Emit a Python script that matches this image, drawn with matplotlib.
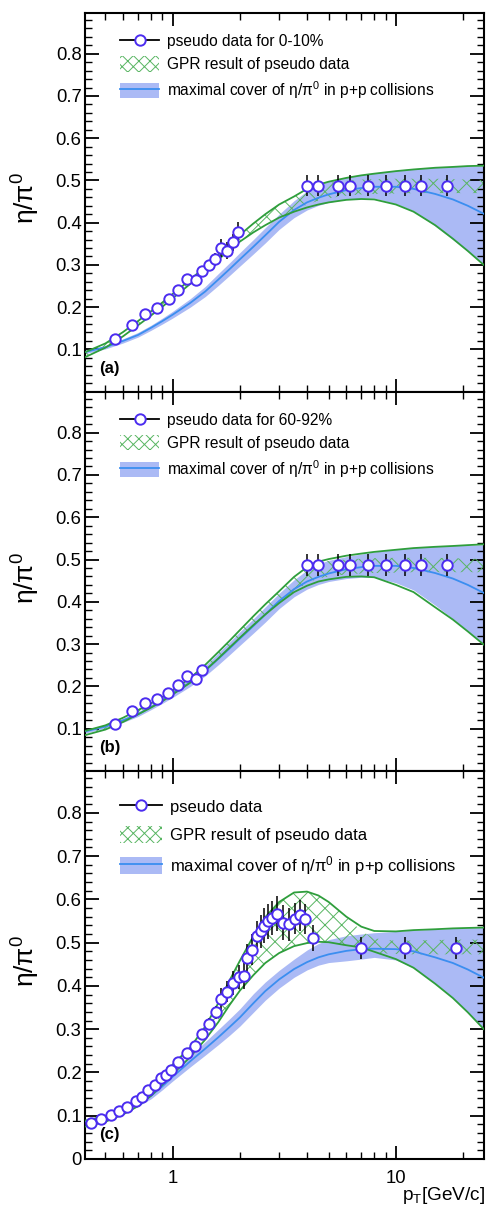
import matplotlib
matplotlib.use("Agg")
import matplotlib.pyplot as plt
from matplotlib.lines import Line2D
from matplotlib.patches import Patch
from matplotlib.ticker import FixedLocator

plt.rcParams['font.family'] = ['Liberation Sans', 'DejaVu Sans']
plt.rcParams['mathtext.fontset'] = 'custom'
plt.rcParams['mathtext.rm'] = 'Liberation Sans'
plt.rcParams['mathtext.it'] = 'Liberation Sans:italic'
plt.rcParams['hatch.linewidth'] = 0.7

# pT grid on which the bands are given
pt_grid = [0.4, 0.5, 0.6, 0.7, 0.8, 0.9, 1.0, 1.2, 1.4, 1.6, 1.8, 2.0, 2.3, 2.6, 3.0,
           3.5, 4.0, 4.5, 5.0, 6.0, 7.0, 8.0, 10.0, 12.0, 15.0, 18.0, 21.0, 25.0]

# p+p maximal cover (panels a, b)
pp_mid_ab = [0.093, 0.105, 0.120, 0.134, 0.151, 0.167, 0.182, 0.210, 0.237, 0.265, 0.290, 0.313, 0.343, 0.370,
             0.402, 0.430, 0.448, 0.459, 0.467, 0.477, 0.482, 0.485, 0.485, 0.480, 0.468, 0.455, 0.440, 0.420]
pp_lo_ab = [0.089, 0.101, 0.115, 0.129, 0.145, 0.160, 0.174, 0.200, 0.225, 0.251, 0.275, 0.297, 0.326, 0.352,
            0.384, 0.412, 0.430, 0.441, 0.448, 0.455, 0.458, 0.458, 0.445, 0.428, 0.392, 0.360, 0.332, 0.298]
pp_hi_ab = [0.097, 0.109, 0.125, 0.140, 0.157, 0.174, 0.190, 0.220, 0.249, 0.279, 0.305, 0.329, 0.360, 0.388,
            0.420, 0.452, 0.475, 0.490, 0.498, 0.507, 0.513, 0.518, 0.524, 0.528, 0.531, 0.533, 0.534, 0.535]

# p+p maximal cover (panel c)
pp_mid_c = [0.086, 0.098, 0.112, 0.128, 0.146, 0.168, 0.190, 0.226, 0.255, 0.281, 0.305, 0.327, 0.360, 0.388,
            0.415, 0.439, 0.455, 0.466, 0.473, 0.481, 0.485, 0.486, 0.485, 0.480, 0.466, 0.453, 0.438, 0.418]
pp_lo_c = [0.082, 0.094, 0.107, 0.122, 0.139, 0.160, 0.180, 0.213, 0.240, 0.264, 0.286, 0.307, 0.339, 0.367,
           0.395, 0.420, 0.437, 0.448, 0.454, 0.458, 0.462, 0.466, 0.460, 0.442, 0.405, 0.372, 0.339, 0.298]
pp_hi_c = [0.090, 0.102, 0.117, 0.134, 0.153, 0.176, 0.200, 0.239, 0.271, 0.299, 0.324, 0.347, 0.382, 0.409,
           0.436, 0.462, 0.483, 0.498, 0.507, 0.516, 0.520, 0.523, 0.526, 0.529, 0.531, 0.533, 0.534, 0.535]

# GPR band edges (green lines) and hatched GPR region
line_a_lo = [0.080, 0.104, 0.131, 0.157, 0.180, 0.201, 0.221, 0.255, 0.286, 0.312, 0.336, 0.355, 0.377, 0.394,
             0.412, 0.426, 0.436, 0.443, 0.448, 0.454, 0.456, 0.455, 0.443, 0.426, 0.394, 0.362, 0.333, 0.298]
line_a_hi = [0.092, 0.114, 0.141, 0.167, 0.190, 0.211, 0.231, 0.265, 0.296, 0.324, 0.350, 0.371, 0.398, 0.420,
             0.443, 0.462, 0.480, 0.490, 0.497, 0.506, 0.512, 0.516, 0.522, 0.526, 0.530, 0.532, 0.534, 0.535]
hatch_a_lo = [0.080, 0.104, 0.131, 0.157, 0.180, 0.201, 0.221, 0.255, 0.286, 0.312, 0.336, 0.355, 0.377, 0.394,
              0.412, 0.428, 0.443, 0.452, 0.458, 0.464, 0.467, 0.468, 0.469, 0.470, 0.470, 0.470, 0.470, 0.470]
hatch_a_hi = [0.092, 0.114, 0.141, 0.167, 0.190, 0.211, 0.231, 0.265, 0.296, 0.324, 0.350, 0.371, 0.398, 0.420,
              0.443, 0.462, 0.480, 0.488, 0.494, 0.499, 0.502, 0.503, 0.504, 0.504, 0.504, 0.503, 0.502, 0.501]

line_b_lo = [0.084, 0.098, 0.116, 0.134, 0.150, 0.165, 0.181, 0.209, 0.238, 0.266, 0.292, 0.315, 0.345, 0.370,
             0.397, 0.423, 0.438, 0.448, 0.453, 0.459, 0.460, 0.458, 0.440, 0.423, 0.387, 0.358, 0.330, 0.297]
line_b_hi = [0.094, 0.108, 0.126, 0.144, 0.160, 0.175, 0.191, 0.220, 0.251, 0.281, 0.308, 0.333, 0.366, 0.394,
             0.425, 0.459, 0.482, 0.495, 0.501, 0.509, 0.514, 0.518, 0.523, 0.527, 0.530, 0.532, 0.534, 0.536]
hatch_b_lo = [0.084, 0.098, 0.116, 0.134, 0.150, 0.165, 0.181, 0.209, 0.238, 0.266, 0.292, 0.315, 0.345, 0.370,
              0.397, 0.423, 0.445, 0.455, 0.460, 0.465, 0.467, 0.468, 0.469, 0.470, 0.470, 0.470, 0.470, 0.470]
hatch_b_hi = [0.094, 0.108, 0.126, 0.144, 0.160, 0.175, 0.191, 0.220, 0.251, 0.281, 0.308, 0.333, 0.366, 0.394,
              0.425, 0.459, 0.482, 0.495, 0.497, 0.500, 0.502, 0.503, 0.504, 0.504, 0.504, 0.503, 0.502, 0.501]

line_c_lo = [0.074, 0.086, 0.103, 0.122, 0.146, 0.172, 0.196, 0.236, 0.276, 0.316, 0.356, 0.389, 0.425, 0.453,
             0.476, 0.492, 0.499, 0.502, 0.501, 0.494, 0.489, 0.479, 0.462, 0.442, 0.405, 0.372, 0.339, 0.298]
line_c_hi = [0.088, 0.099, 0.115, 0.137, 0.163, 0.191, 0.218, 0.258, 0.306, 0.360, 0.413, 0.458, 0.515, 0.559,
             0.594, 0.616, 0.618, 0.609, 0.594, 0.560, 0.537, 0.527, 0.526, 0.529, 0.531, 0.533, 0.534, 0.535]
hatch_c_lo = [0.074, 0.086, 0.103, 0.122, 0.146, 0.172, 0.196, 0.236, 0.276, 0.316, 0.356, 0.389, 0.425, 0.453,
              0.476, 0.492, 0.499, 0.502, 0.501, 0.494, 0.489, 0.476, 0.474, 0.473, 0.473, 0.473, 0.473, 0.473]
hatch_c_hi = [0.088, 0.099, 0.115, 0.137, 0.163, 0.191, 0.218, 0.258, 0.306, 0.360, 0.413, 0.458, 0.515, 0.559,
              0.594, 0.616, 0.618, 0.609, 0.594, 0.560, 0.527, 0.510, 0.504, 0.505, 0.506, 0.507, 0.507, 0.507]

# pseudo data
pt_a = [0.55, 0.655, 0.75, 0.85, 0.96, 1.06, 1.155, 1.27, 1.36, 1.455, 1.545, 1.64, 1.755, 1.86, 1.96,
        4.0, 4.5, 5.5, 6.25, 7.5, 9.0, 11.0, 13.0, 17.0]
eta_a = [0.124, 0.158, 0.184, 0.199, 0.220, 0.240, 0.266, 0.265, 0.286, 0.300, 0.313, 0.340, 0.333, 0.353, 0.377,
         0.487, 0.487, 0.487, 0.487, 0.487, 0.487, 0.487, 0.487, 0.487]
err_a = [0.005, 0.005, 0.005, 0.006, 0.006, 0.007, 0.008, 0.008, 0.010, 0.012, 0.015, 0.022, 0.020, 0.020, 0.025,
         0.025, 0.025, 0.025, 0.025, 0.025, 0.025, 0.025, 0.025, 0.025]

pt_b = [0.55, 0.655, 0.75, 0.85, 0.955, 1.06, 1.155, 1.27, 1.36,
        4.0, 4.5, 5.5, 6.25, 7.5, 9.0, 11.0, 13.0, 17.0]
eta_b = [0.112, 0.142, 0.161, 0.171, 0.184, 0.204, 0.224, 0.218, 0.238,
         0.487, 0.487, 0.487, 0.487, 0.487, 0.487, 0.487, 0.487, 0.487]
err_b = [0.004, 0.004, 0.005, 0.005, 0.005, 0.006, 0.006, 0.007, 0.007,
         0.025, 0.025, 0.025, 0.025, 0.025, 0.025, 0.025, 0.025, 0.025]

pt_c = [0.43, 0.476, 0.527, 0.575, 0.626, 0.683, 0.731, 0.777, 0.833, 0.889, 0.93, 0.98, 1.06, 1.155, 1.258,
        1.357, 1.454, 1.558, 1.651, 1.756, 1.868, 1.98, 2.087, 2.157, 2.256, 2.377, 2.478, 2.56, 2.68, 2.79,
        2.94, 3.13, 3.32, 3.52, 3.72, 3.9, 4.26, 7.0, 11.0, 18.6]
eta_c = [0.084, 0.092, 0.102, 0.110, 0.120, 0.133, 0.144, 0.160, 0.171, 0.187, 0.194, 0.206, 0.223, 0.245, 0.262,
         0.289, 0.313, 0.339, 0.370, 0.387, 0.407, 0.420, 0.424, 0.465, 0.484, 0.515, 0.526, 0.539, 0.549, 0.557,
         0.567, 0.546, 0.542, 0.555, 0.563, 0.555, 0.511, 0.487, 0.487, 0.487]
err_c = [0.004, 0.004, 0.004, 0.004, 0.004, 0.004, 0.004, 0.004, 0.004, 0.004, 0.004, 0.004, 0.005, 0.006, 0.008,
         0.010, 0.012, 0.015, 0.025, 0.025, 0.027, 0.028, 0.030, 0.032, 0.035, 0.036, 0.038, 0.040, 0.040, 0.040,
         0.040, 0.040, 0.038, 0.036, 0.036, 0.035, 0.030, 0.025, 0.025, 0.025]

y_ticks_ab = [0.1, 0.2, 0.3, 0.4, 0.5, 0.6, 0.7, 0.8]
y_labels_ab = ['0.1', '0.2', '0.3', '0.4', '0.5', '0.6', '0.7', '0.8']
y_ticks_c = [0.0, 0.1, 0.2, 0.3, 0.4, 0.5, 0.6, 0.7, 0.8]
y_labels_c = ['0', '0.1', '0.2', '0.3', '0.4', '0.5', '0.6', '0.7', '0.8']
x_minor = [0.5, 0.6, 0.7, 0.8, 0.9, 2, 3, 4, 5, 6, 7, 8, 9, 20]

PP_FILL = '#abbaf5'
PP_LINE = '#3b8ef0'
GREEN = '#2f9e3c'
HATCH_GREEN = '#58b562'
DATA_BLUE = '#4b2cf0'


def draw_panel(ax, pt, eta, err, pp_lo, pp_hi, pp_mid, hatch_lo, hatch_hi, line_lo, line_hi,
               data_label, tag, yticks, ylabels, leg_fs, leg_y, leg_space):
    ax.fill_between(pt_grid, pp_lo, pp_hi, color=PP_FILL, lw=0, zorder=1)
    ax.fill_between(pt_grid, hatch_lo, hatch_hi, facecolor='none', edgecolor=HATCH_GREEN,
                    hatch='xx', lw=0, zorder=2)
    ax.plot(pt_grid, pp_mid, color=PP_LINE, lw=1.3, zorder=3)
    ax.plot(pt_grid, line_lo, color=GREEN, lw=1.3, zorder=4)
    ax.plot(pt_grid, line_hi, color=GREEN, lw=1.3, zorder=4)
    ax.errorbar(pt, eta, yerr=err, fmt='o', ms=7.5, mfc='white', mec=DATA_BLUE, mew=1.4,
                ecolor='black', elinewidth=1.1, capsize=0, zorder=5)

    ax.set_xscale('log')
    ax.set_xlim(0.405, 24.7)
    ax.set_ylim(0, 0.897)
    ax.xaxis.set_major_locator(FixedLocator([1, 10]))
    ax.xaxis.set_minor_locator(FixedLocator(x_minor))
    ax.set_yticks(yticks)
    ax.set_yticklabels(ylabels)
    ax.yaxis.set_minor_locator(FixedLocator([i * 0.02 for i in range(45)]))
    ax.tick_params(which='both', direction='in', top=True, right=True, labelsize=13.3)
    ax.tick_params(axis='y', which='major', length=10, width=1.3, pad=2.5)
    ax.tick_params(axis='y', which='minor', length=5, width=1.0)
    ax.tick_params(axis='x', which='major', length=9.5, width=1.3, pad=8)
    ax.tick_params(axis='x', which='minor', length=5, width=1.0)
    ax.xaxis.set_minor_formatter(plt.NullFormatter())
    for s in ax.spines.values():
        s.set_linewidth(1.5)

    ax.set_ylabel(r'η/π$^{0}$', fontsize=19)
    ax.yaxis.set_label_coords(-0.108, 0.51)
    ax.text(0.036, 0.062, tag, transform=ax.transAxes, fontsize=12, fontweight='bold',
            va='center', ha='left')

    handles = [
        Line2D([0], [0], color='black', lw=1.3, marker='o', ms=7.5, mfc='white', mec=DATA_BLUE, mew=1.4),
        Patch(facecolor='none', edgecolor=HATCH_GREEN, hatch='xxx', lw=0),
        (Patch(facecolor=PP_FILL, lw=0), Line2D([0], [0], color=PP_LINE, lw=1.3)),
    ]
    labels = [data_label, 'GPR result of pseudo data', r'maximal cover of η/π$^{0}$ in p+p collisions']
    ax.legend(handles, labels, loc='upper left', bbox_to_anchor=(0.088, leg_y), frameon=False,
              fontsize=leg_fs, handlelength=2.5, handleheight=1.15, handletextpad=0.5,
              labelspacing=leg_space, borderpad=0, borderaxespad=0)


fig = plt.figure(figsize=(4.86, 12.07), dpi=100)
ax_a = fig.add_axes([0.1749, 0.6756, 0.8200, 0.3138])
ax_b = fig.add_axes([0.1749, 0.3612, 0.8200, 0.3144])
ax_c = fig.add_axes([0.1749, 0.0398, 0.8200, 0.3215])

draw_panel(ax_a, pt_a, eta_a, err_a, pp_lo_ab, pp_hi_ab, pp_mid_ab, hatch_a_lo, hatch_a_hi,
           line_a_lo, line_a_hi, 'pseudo data for 0-10%', '(a)', y_ticks_ab, y_labels_ab, 11.2, 0.946, 0.45)
draw_panel(ax_b, pt_b, eta_b, err_b, pp_lo_ab, pp_hi_ab, pp_mid_ab, hatch_b_lo, hatch_b_hi,
           line_b_lo, line_b_hi, 'pseudo data for 60-92%', '(b)', y_ticks_ab, y_labels_ab, 11.2, 0.946, 0.45)
draw_panel(ax_c, pt_c, eta_c, err_c, pp_lo_c, pp_hi_c, pp_mid_c, hatch_c_lo, hatch_c_hi,
           line_c_lo, line_c_hi, 'pseudo data', '(c)', y_ticks_c, y_labels_c, 12.0, 0.93, 0.66)

ax_a.tick_params(axis='x', labelbottom=False)
ax_b.tick_params(axis='x', labelbottom=False)
ax_c.set_xticklabels(['1', '10'])
ax_c.text(1.004, -0.093, r'p$_{\rm T}$[GeV/c]', transform=ax_c.transAxes, fontsize=13.7,
          ha='right', va='center')

fig.savefig('out.png', dpi=100)
